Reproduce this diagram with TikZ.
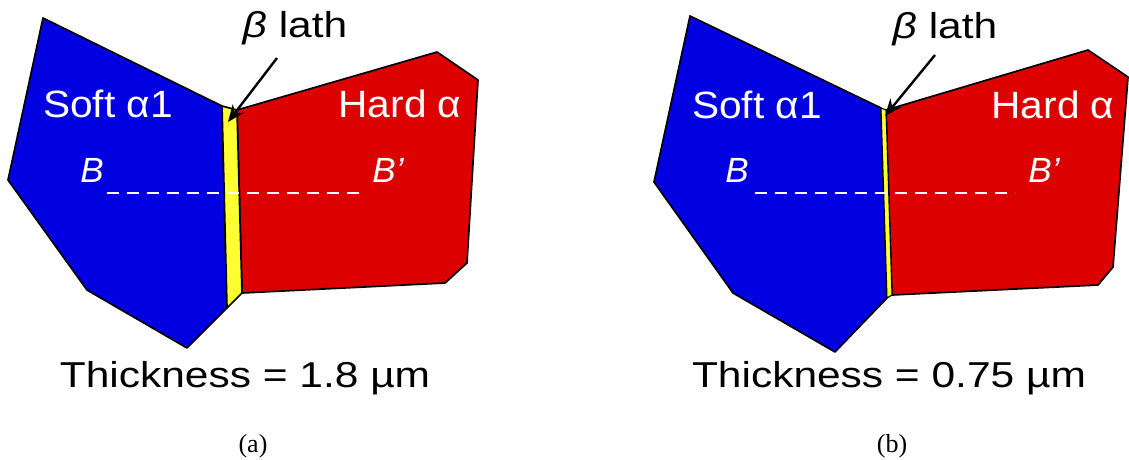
\documentclass[tikz,border=0pt]{standalone}
\usepackage{fontspec}
\setmainfont{Liberation Sans}
\newfontfamily\widefont[FakeStretch=1.07]{Liberation Sans}
\newfontfamily\widerfont[FakeStretch=1.18]{Liberation Sans}
\newfontfamily\captionfont{Liberation Serif}
\usetikzlibrary{arrows.meta}
\definecolor{grainblue}{RGB}{0,0,225}
\definecolor{grainred}{RGB}{220,0,0}
\definecolor{lathyellow}{RGB}{255,255,50}
\begin{document}
\begin{tikzpicture}[x=1pt,y=-1pt,
  grain/.style={draw=black,line width=1.7pt,line join=round},
  phase/.style={text=white,inner sep=0pt,anchor=base,font=\widefont\fontsize{38}{42}\selectfont},
  pointlbl/.style={text=white,inner sep=0pt,anchor=base,font=\fontsize{35}{40}\selectfont\itshape},
  blacklbl/.style={text=black,inner sep=0pt,anchor=base,font=\widerfont\fontsize{36}{40}\selectfont},
  caption/.style={text=black,inner sep=0pt,anchor=base,font=\captionfont\fontsize{26}{29}\selectfont},
  section/.style={draw=white,line width=1.9pt,dash pattern=on 12pt off 8pt},
  pointer/.style={draw=black,line width=2.4pt,-{Stealth[length=17pt,width=14pt]}}]
\useasboundingbox (0,0) rectangle (1129,459);

% ---------- panel (a) ----------
\fill[grainblue] (43,18) -- (222,106) -- (227,308) -- (187,348) -- (87,290) -- (8,180) -- cycle;
\draw[grain] (43,18) -- (222,106) -- (227,308) -- (187,348) -- (87,290) -- (8,180) -- cycle;
\fill[grainred] (237,110) -- (437,52) -- (478,80) -- (467,263) -- (445,283) -- (242,293) -- cycle;
\draw[grain] (237,110) -- (437,52) -- (478,80) -- (467,263) -- (445,283) -- (242,293) -- cycle;
\fill[lathyellow] (222,106) -- (237,110) -- (242,293) -- (227,308) -- cycle;
\draw[grain] (222,106) -- (237,110) -- (242,293) -- (227,308) -- cycle;

\coordinate (Bsa) at (107,193);
\coordinate (Bea) at (365,193);
\draw[section] (Bsa) -- (Bea);

\node[phase] (softa) at (108,117) {Soft α1};
\node[phase] (harda) at (400,117) {Hard α};
\node[pointlbl] (Ba) at (92,182) {B};
\node[pointlbl] (Bpa) at (388,182) {B’};
\node[blacklbl] (latha) at (295,37) {\textit{β} lath};
\coordinate (arrsa) at (277,58);
\coordinate (arrea) at (228,122);
\draw[pointer] (arrsa) -- (arrea);
\node[blacklbl] (thicka) at (245,387) {Thickness = 1.8 µm};
\node[caption] (capa) at (253,452) {(a)};

% ---------- panel (b) ----------
\fill[grainblue] (690,16) -- (881,108) -- (887,298) -- (835,352) -- (733,293) -- (654,182) -- cycle;
\draw[grain] (690,16) -- (881,108) -- (887,298) -- (835,352) -- (733,293) -- (654,182) -- cycle;
\fill[grainred] (886,110) -- (1088,50) -- (1128,77) -- (1113,267) -- (1098,285) -- (892,295) -- cycle;
\draw[grain] (886,110) -- (1088,50) -- (1128,77) -- (1113,267) -- (1098,285) -- (892,295) -- cycle;
\fill[lathyellow] (881,108) -- (886,110) -- (892,295) -- (887,298) -- cycle;
\draw[draw=black,line width=1.1pt,line join=round] (881,108) -- (886,110) -- (892,295) -- (887,298) -- cycle;

\coordinate (Bsb) at (755,193);
\coordinate (Beb) at (1015,193);
\draw[section] (Bsb) -- (Beb);

\node[phase] (softb) at (757,118) {Soft α1};
\node[phase] (hardb) at (1053,118) {Hard α};
\node[pointlbl] (Bb) at (737,182) {B};
\node[pointlbl] (Bpb) at (1044,182) {B’};
\node[blacklbl] (lathb) at (945,38) {\textit{β} lath};
\coordinate (arrsb) at (935,55);
\coordinate (arreb) at (885,116);
\draw[pointer] (arrsb) -- (arreb);
\node[blacklbl] (thickb) at (889,387) {Thickness = 0.75 µm};
\node[caption] (capb) at (892,452) {(b)};
\end{tikzpicture}
\end{document}
